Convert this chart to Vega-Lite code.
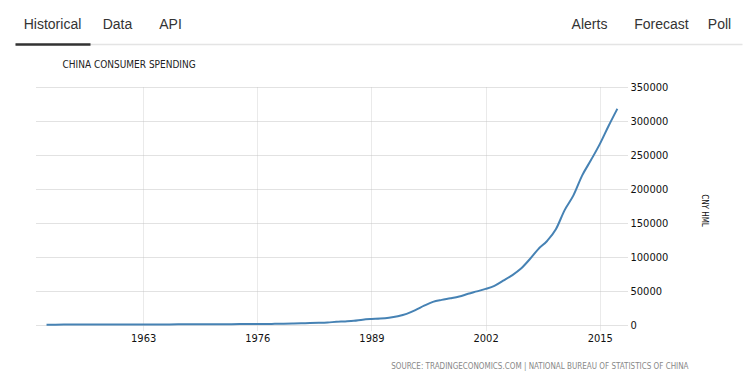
{
  "$schema": "https://vega.github.io/schema/vega-lite/v6.json",
  "width": 591,
  "height": 238,
  "autosize": {"type": "none"},
  "padding": {"left": 36, "top": 87, "right": 120, "bottom": 66},
  "background": "white",
  "config": {"view": {"stroke": null}, "font": "DejaVu Sans Condensed"},
  "layer": [
    {
      "data": {"values": [
        {"year": 1952, "value": 452}, {"year": 1953, "value": 533}, {"year": 1954, "value": 560}, {"year": 1955, "value": 590},
        {"year": 1956, "value": 643}, {"year": 1957, "value": 674}, {"year": 1958, "value": 706}, {"year": 1959, "value": 704},
        {"year": 1960, "value": 732}, {"year": 1961, "value": 755}, {"year": 1962, "value": 769}, {"year": 1963, "value": 765},
        {"year": 1964, "value": 796}, {"year": 1965, "value": 848}, {"year": 1966, "value": 911}, {"year": 1967, "value": 957},
        {"year": 1968, "value": 958}, {"year": 1969, "value": 1003}, {"year": 1970, "value": 1062}, {"year": 1971, "value": 1110},
        {"year": 1972, "value": 1178}, {"year": 1973, "value": 1265}, {"year": 1974, "value": 1296}, {"year": 1975, "value": 1365},
        {"year": 1976, "value": 1415}, {"year": 1977, "value": 1486}, {"year": 1978, "value": 1759}, {"year": 1979, "value": 2014},
        {"year": 1980, "value": 2337}, {"year": 1981, "value": 2628}, {"year": 1982, "value": 2903}, {"year": 1983, "value": 3231},
        {"year": 1984, "value": 3742}, {"year": 1985, "value": 4687}, {"year": 1986, "value": 5302}, {"year": 1987, "value": 6126},
        {"year": 1988, "value": 7868}, {"year": 1989, "value": 8813}, {"year": 1990, "value": 9451}, {"year": 1991, "value": 10731},
        {"year": 1992, "value": 13000}, {"year": 1993, "value": 16412}, {"year": 1994, "value": 21844}, {"year": 1995, "value": 28370},
        {"year": 1996, "value": 33956}, {"year": 1997, "value": 36922}, {"year": 1998, "value": 39229}, {"year": 1999, "value": 41920},
        {"year": 2000, "value": 45855}, {"year": 2001, "value": 49436}, {"year": 2002, "value": 53057}, {"year": 2003, "value": 57650},
        {"year": 2004, "value": 65219}, {"year": 2005, "value": 72959}, {"year": 2006, "value": 82576}, {"year": 2007, "value": 96333},
        {"year": 2008, "value": 111670}, {"year": 2009, "value": 123585}, {"year": 2010, "value": 140759}, {"year": 2011, "value": 168957},
        {"year": 2012, "value": 190585}, {"year": 2013, "value": 220000}, {"year": 2014, "value": 242540}, {"year": 2015, "value": 265980},
        {"year": 2016, "value": 292661}, {"year": 2017, "value": 317964}
      ]},
      "mark": {"type": "line", "color": "#4682b4", "strokeWidth": 2, "interpolate": "monotone"},
      "encoding": {
        "x": {
          "field": "year", "type": "quantitative",
          "scale": {"domain": [1950.8, 2018.1], "nice": false, "zero": false},
          "axis": {
            "values": [1963, 1976, 1989, 2002, 2015], "format": "d",
            "title": "SOURCE: TRADINGECONOMICS.COM | NATIONAL BUREAU OF STATISTICS OF CHINA",
            "titleAnchor": "end", "titleAlign": "right", "titleX": 652, "titleY": 41, "titleBaseline": "middle",
            "titleFontSize": 8, "titleFontWeight": "normal", "titleColor": "#888", "titleFont": "DejaVu Sans Condensed",
            "labelFontSize": 11, "labelColor": "#111", "labelPadding": 2, "labelFont": "DejaVu Sans Condensed",
            "domain": false, "ticks": true, "tickColor": "#d4d4d4", "tickDash": [1, 1], "tickSize": 5,
            "grid": true, "gridColor": "#d4d4d4", "gridDash": [1, 1]
          }
        },
        "y": {
          "field": "value", "type": "quantitative",
          "scale": {"domain": [0, 350000], "nice": false},
          "axis": {
            "orient": "right", "values": [0, 50000, 100000, 150000, 200000, 250000, 300000, 350000], "format": "d",
            "title": "CNY HML", "titleAngle": 90, "titleX": 76, "titleY": 123, "titleAlign": "center", "titleBaseline": "middle",
            "titleFontSize": 8, "titleFontWeight": "normal", "titleColor": "#111", "titleFont": "DejaVu Sans Condensed",
            "labelAlign": "left", "labelPadding": 3, "labelFontSize": 11, "labelColor": "#111", "labelFont": "DejaVu Sans Condensed",
            "domain": false, "ticks": false, "grid": true, "gridColor": "#c4c4c4", "gridDash": [1, 1]
          }
        }
      }
    },
    {
      "data": {"values": [{}]},
      "mark": {"type": "rule", "opacity": 0},
      "encoding": {
        "x": {
          "datum": 100, "type": "quantitative",
          "scale": {"domain": [15, 742], "range": [-21, 706], "nice": false, "zero": false},
          "axis": {
            "orient": "top", "offset": 43, "title": null,
            "values": [52, 117, 170, 589, 661, 719],
            "labelExpr": "datum.value == 52 ? 'Historical' : datum.value == 117 ? 'Data' : datum.value == 170 ? 'API' : datum.value == 589 ? 'Alerts' : datum.value == 661 ? 'Forecast' : 'Poll'",
            "labelFont": "Liberation Sans", "labelFontSize": 14, "labelColor": "#333", "labelBaseline": "middle",
            "labelPadding": 20, "labelFlush": false, "labelOverlap": false, "labelBound": false,
            "ticks": false, "grid": false, "domainColor": "#e4e4e4", "domainWidth": 1.5
          }
        }
      }
    },
    {
      "data": {"values": [{}]},
      "mark": {"type": "rule", "opacity": 0},
      "encoding": {
        "x": {
          "datum": 0.5, "type": "quantitative",
          "scale": {"domain": [0, 1], "range": [-21, 54], "nice": false, "zero": false},
          "axis": {
            "orient": "top", "offset": 43, "labels": false, "ticks": false, "grid": false,
            "domainColor": "#333", "domainWidth": 2.5,
            "title": "CHINA CONSUMER SPENDING", "titleX": 26, "titleY": 20, "titleAlign": "left", "titleAnchor": null,
            "titleBaseline": "middle", "titleAngle": 0, "titleFontSize": 10, "titleFontWeight": "normal", "titleColor": "#222",
            "titleFont": "DejaVu Sans Condensed"
          }
        }
      }
    }
  ],
  "resolve": {"scale": {"x": "independent"}, "axis": {"x": "independent"}}
}
